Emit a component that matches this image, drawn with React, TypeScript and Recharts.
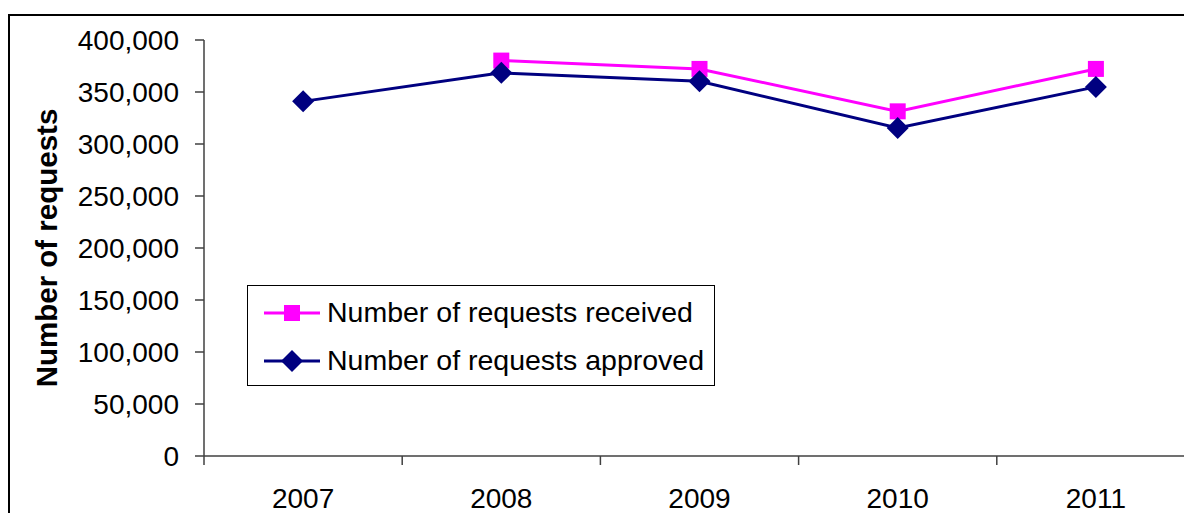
import React from 'react';
import { LineChart, Line, XAxis, YAxis, Legend } from 'recharts';

const years = ['2007', '2008', '2009', '2010', '2011'];
const received: (number | null)[] = [null, 380200, 372200, 331400, 372200];
const approved: number[] = [341000, 368400, 360300, 315400, 354900];
const yTicks = [0, 50000, 100000, 150000, 200000, 250000, 300000, 350000, 400000];
const seriesNames = ['Number of requests received', 'Number of requests approved'];
const yTitle = 'Number of requests';

const MAGENTA = '#FF00FF';
const NAVY = '#000080';
const AXIS = '#404040';
const FONT = '"Liberation Sans", Arial, sans-serif';

const data = years.map((y, i) => ({ year: y, received: received[i], approved: approved[i] }));

const SquareDot = (props: any) => {
  const { cx, cy, index } = props;
  if (cx == null || cy == null || props.value == null) return <g key={`s${index}`} />;
  return <rect key={`s${index}`} x={cx - 8} y={cy - 8} width={16} height={16} fill={MAGENTA} />;
};

const DiamondDot = (props: any) => {
  const { cx, cy, index } = props;
  if (cx == null || cy == null) return <g key={`d${index}`} />;
  const r = 11;
  return (
    <polygon
      key={`d${index}`}
      points={`${cx},${cy - r} ${cx + r},${cy} ${cx},${cy + r} ${cx - r},${cy}`}
      fill={NAVY}
    />
  );
};

// Category tick: label at band centre, tick mark at band boundaries (Excel style)
const YearTick = (props: any) => {
  const { x, y, payload, index, visibleTicksCount } = props;
  const half = payload && payload.offset ? payload.offset : 0;
  const last = index === (visibleTicksCount ?? years.length) - 1;
  return (
    <g>
      <line x1={x - half} y1={y} x2={x - half} y2={y + 9} stroke={AXIS} strokeWidth={1.5} />
      {last && <line x1={x + half} y1={y} x2={x + half} y2={y + 9} stroke={AXIS} strokeWidth={1.5} />}
      <text
        x={x}
        y={y + 32}
        dy="0.71em"
        textAnchor="middle"
        fontSize={28}
        fontFamily={FONT}
        fill="#000"
      >
        {payload.value}
      </text>
    </g>
  );
};

const LegendIcon = ({ kind }: { kind: 'square' | 'diamond' }) => (
  <svg width={56} height={24} style={{ position: 'absolute', left: 16, top: -12 }}>
    <line x1={0} y1={12} x2={56} y2={12} stroke={kind === 'square' ? MAGENTA : NAVY} strokeWidth={3} />
    {kind === 'square' ? (
      <rect x={20} y={4} width={16} height={16} fill={MAGENTA} />
    ) : (
      <polygon points="28,1 39,12 28,23 17,12" fill={NAVY} />
    )}
  </svg>
);

const LegendBox = () => (
  <div
    style={{
      position: 'relative',
      width: 468,
      height: 101,
      border: '1.5px solid #000',
      boxSizing: 'border-box',
      background: '#fff',
      fontFamily: FONT,
      fontSize: 28.5,
      color: '#000',
    }}
  >
    {seriesNames.map((name, i) => (
      <div key={name} style={{ position: 'absolute', left: 0, top: i === 0 ? 27 : 75, width: '100%' }}>
        <LegendIcon kind={i === 0 ? 'square' : 'diamond'} />
        <span style={{ position: 'absolute', left: 79, top: -17, whiteSpace: 'nowrap', lineHeight: '32px' }}>
          {name}
        </span>
      </div>
    ))}
  </div>
);

export default function App() {
  return (
    <div
      style={{
        position: 'absolute',
        left: 0,
        top: 0,
        width: 1184,
        height: 513,
        overflow: 'hidden',
        background: '#fff',
      }}
    >
      <div
        style={{
          position: 'absolute',
          left: 8,
          top: 14,
          width: 1300,
          height: 600,
          border: '2px solid #000',
          boxSizing: 'border-box',
        }}
      />
      <div style={{ position: 'absolute', left: 0, top: 0 }}>
        <LineChart
          width={1200}
          height={513}
          data={data}
          margin={{ top: 40, right: 5, bottom: 7, left: 0 }}
          style={{ fontFamily: FONT }}
        >
          <XAxis
            dataKey="year"
            scale="band"
            interval={0}
            tickLine={false}
            tickSize={0}
            tickMargin={0}
            axisLine={{ stroke: AXIS, strokeWidth: 1.5 }}
            tick={YearTick}
            height={50}
          />
          <YAxis
            domain={[0, 400000]}
            ticks={yTicks}
            interval={0}
            width={204}
            tickSize={9}
            tickMargin={16}
            tickFormatter={(v: number) => v.toLocaleString('en-US')}
            axisLine={{ stroke: AXIS, strokeWidth: 1.5 }}
            tickLine={{ stroke: AXIS, strokeWidth: 1.5 }}
            tick={{ fill: '#000', fontSize: 28, fontFamily: FONT }}
            label={{
              content: (p: any) => {
                const vb = p.viewBox || { x: 0, y: 40, width: 204, height: 416 };
                const cy = vb.y + vb.height / 2;
                return (
                  <text
                    x={46}
                    y={cy}
                    transform={`rotate(-90 46 ${cy})`}
                    textAnchor="middle"
                    dominantBaseline="central"
                    fontWeight="bold"
                    fontSize={29.5}
                    fontFamily={FONT}
                    fill="#000"
                  >
                    {yTitle}
                  </text>
                );
              },
            }}
          />
          <Legend
            layout="horizontal"
            verticalAlign="middle"
            align="center"
            content={() => <LegendBox />}
            wrapperStyle={{ left: 247, top: 285, width: 468, height: 101 }}
          />
          <Line
            dataKey="received"
            name={seriesNames[0]}
            stroke={MAGENTA}
            strokeWidth={3}
            dot={SquareDot}
            activeDot={false}
            isAnimationActive={false}
          />
          <Line
            dataKey="approved"
            name={seriesNames[1]}
            stroke={NAVY}
            strokeWidth={3}
            dot={DiamondDot}
            activeDot={false}
            isAnimationActive={false}
          />
        </LineChart>
      </div>
    </div>
  );
}
